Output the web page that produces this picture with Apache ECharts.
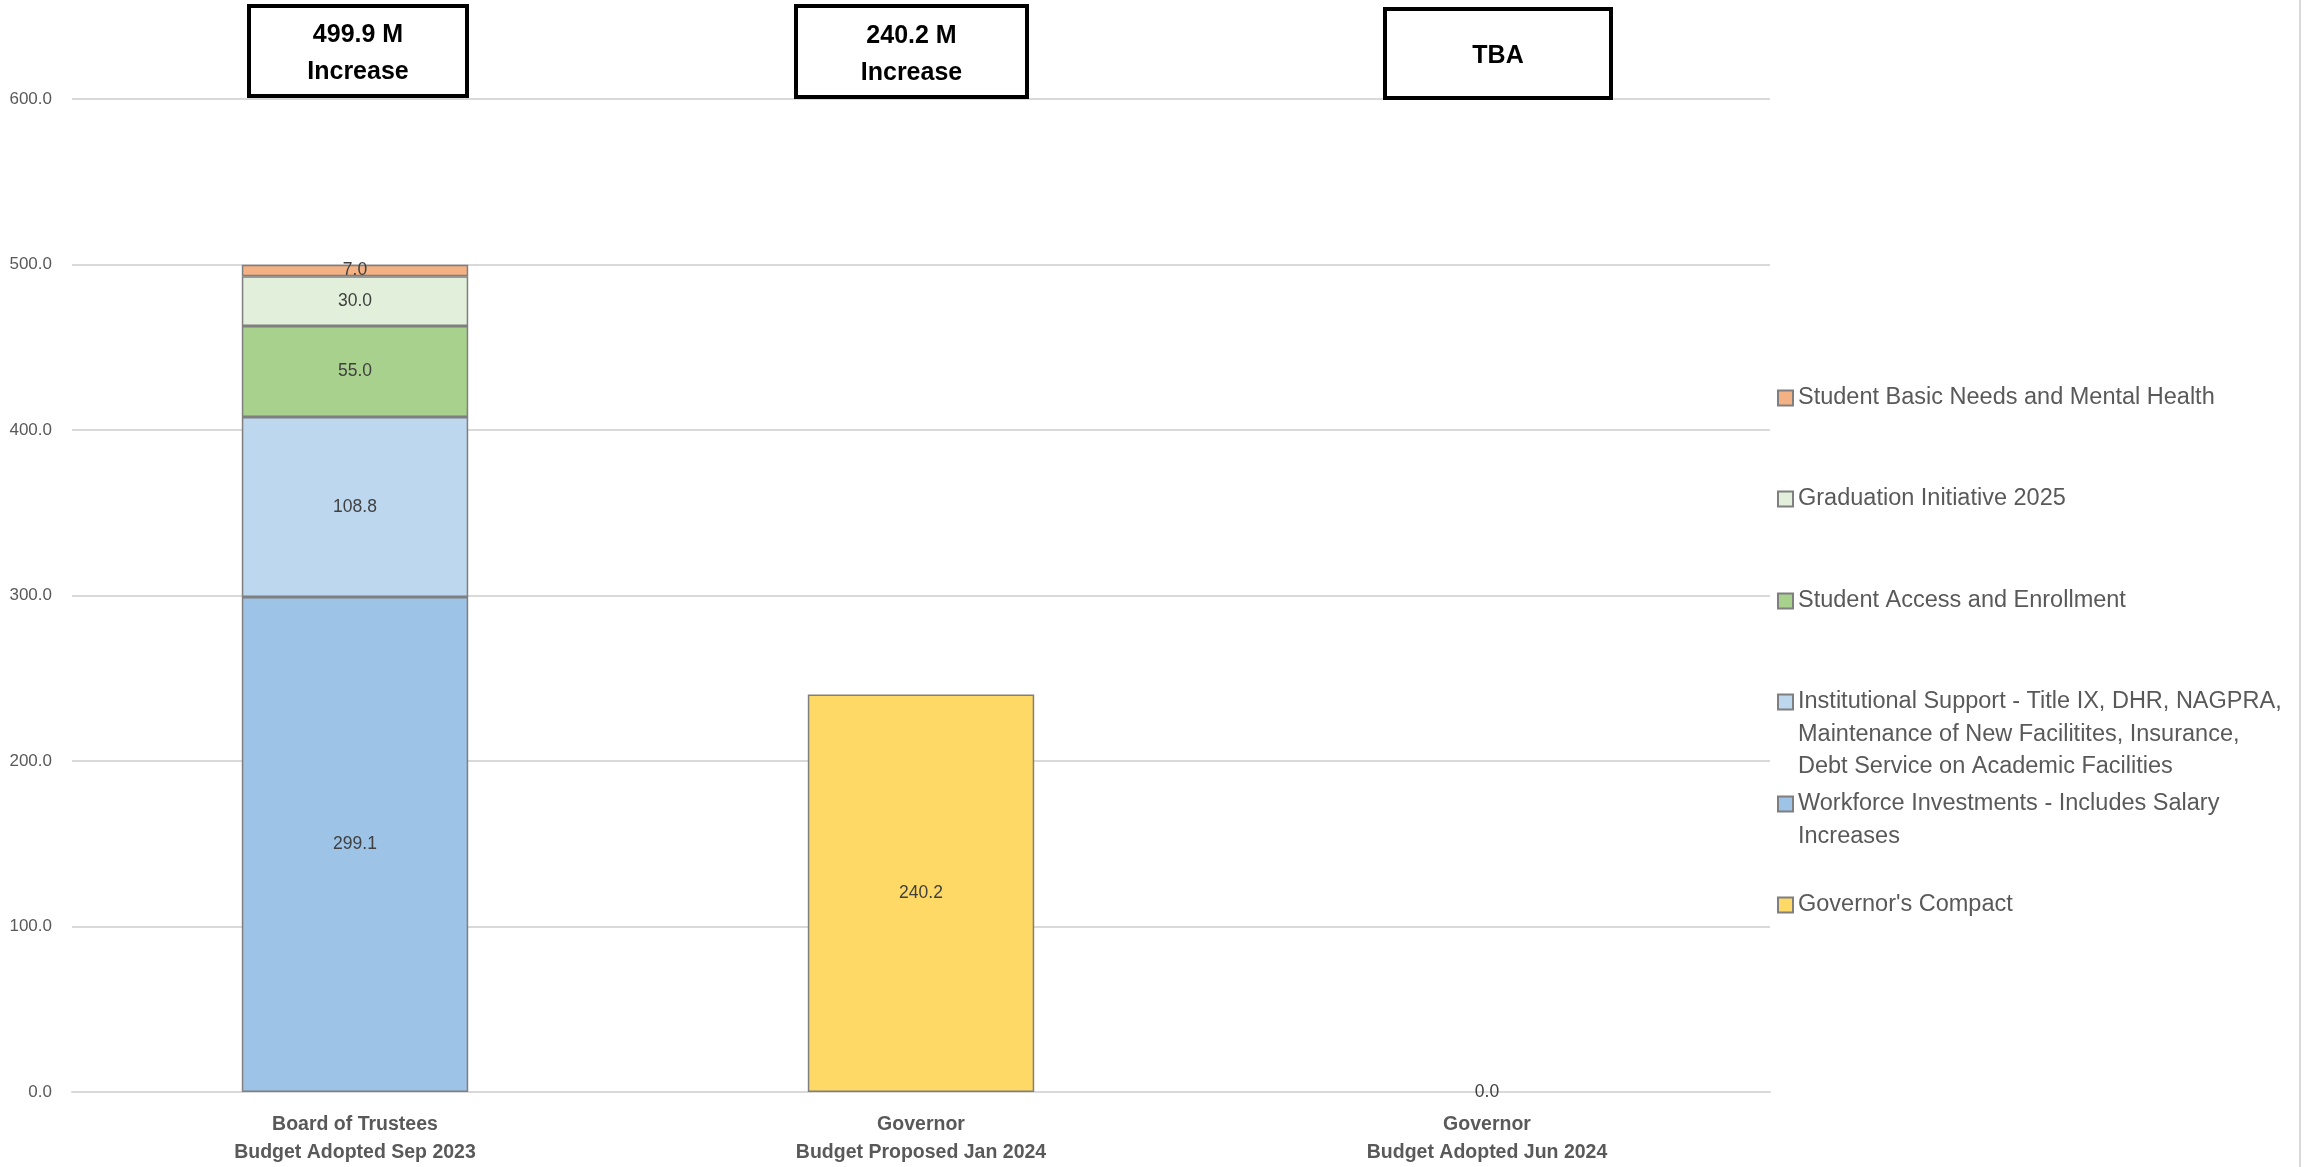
<!DOCTYPE html>
<html>
<head>
<meta charset="utf-8">
<script src="https://cdn.jsdelivr.net/npm/echarts@6/dist/echarts.min.js"></script>
<style>
  html, body { margin: 0; padding: 0; background: #ffffff; }
  #chart { width: 2310px; height: 1167px; }
</style>
</head>
<body>
<div id="chart"></div>
<script>
// ---- data ----
const categories = [
  "Board of Trustees\nBudget Adopted Sep 2023",
  "Governor\nBudget Proposed Jan 2024",
  "Governor\nBudget Adopted Jun 2024"
];
const seriesNames = [
  "Workforce Investments - Includes Salary Increases",
  "Institutional Support - Title IX, DHR, NAGPRA, Maintenance of New Facilitites, Insurance, Debt Service on Academic Facilities",
  "Student Access and Enrollment",
  "Graduation Initiative 2025",
  "Student Basic Needs and Mental Health",
  "Governor's Compact"
];
const legendLabels = [
  "Workforce Investments - Includes Salary\nIncreases",
  "Institutional Support - Title IX, DHR, NAGPRA,\nMaintenance of New Facilitites, Insurance,\nDebt Service on Academic Facilities",
  "Student Access and Enrollment",
  "Graduation Initiative 2025",
  "Student Basic Needs and Mental Health",
  "Governor's Compact"
];
const workforce     = [299.1, null, null];
const institutional = [108.8, null, null];
const access        = [55.0, null, null];
const graduation    = [30.0, null, null];
const basicNeeds    = [7.0, null, null];
const compact       = [null, 240.2, 0.0];
const seriesValues = [workforce, institutional, access, graduation, basicNeeds, compact];
const yTicks = [0, 100, 200, 300, 400, 500, 600];
const annotations = ["499.9 M\nIncrease", "240.2 M\nIncrease", "TBA"];

// ---- style ----
const colors = ["#9DC3E6", "#BDD7EE", "#A9D18E", "#E2EFDA", "#F4B183", "#FFD966"];
const FONT = "'Liberation Sans', Arial, sans-serif";
const legendOrder = [4, 3, 2, 1, 0, 5];
const legendCenters = [398, 499, 601, 702, 804, 905];
const LH = 32.5;

const chart = echarts.init(document.getElementById('chart'), null, { renderer: 'canvas' });

const series = seriesNames.map((name, i) => ({
  name: name,
  type: 'bar',
  stack: 'total',
  data: seriesValues[i].map(v => v === 0 ? { value: v, itemStyle: { borderWidth: 0 } } : v),
  barWidth: '40%',
  itemStyle: { color: colors[i], borderColor: '#7F7F7F', borderWidth: 1.5 },
  label: {
    show: true,
    position: 'inside',
    color: '#404040',
    fontFamily: FONT,
    fontSize: 17.5,
    formatter: p => (p.value === null || p.value === undefined || p.value === '-') ? '' : Number(p.value).toFixed(1)
  },
  emphasis: { disabled: true }
}));

const legends = legendOrder.map((si, k) => {
  const lines = legendLabels[si].split('\n');
  const n = lines.length;
  // pad with empty lines on top so the icon (centered on the block) sits on the first line
  const padded = new Array(n - 1).fill('').concat(lines).join('\n');
  return {
    data: [seriesNames[si]],
    orient: 'vertical',
    left: 1777,
    top: legendCenters[k] - (2 * n - 1) * LH / 2,
    padding: 0,
    itemWidth: 15,
    itemHeight: 15,
    icon: 'rect',
    selectedMode: false,
    formatter: () => padded,
    textStyle: {
      fontFamily: FONT,
      fontSize: 23.5,
      color: '#595959',
      lineHeight: LH
    }
  };
});

const boxes = [
  { x: 249, y: 6, w: 218, h: 90 },
  { x: 796, y: 6, w: 231, h: 91 },
  { x: 1385, y: 9, w: 226, h: 89 }
];
const graphic = [];
boxes.forEach((b, i) => {
  graphic.push({
    type: 'rect',
    shape: { x: b.x, y: b.y, width: b.w, height: b.h },
    style: { fill: '#ffffff', stroke: '#000000', lineWidth: 4 },
    z: 10
  });
  graphic.push({
    type: 'text',
    x: b.x + b.w / 2,
    y: b.y + b.h / 2 + 3,
    style: {
      text: annotations[i],
      align: 'center',
      verticalAlign: 'middle',
      fontFamily: FONT,
      fontWeight: 'bold',
      fontSize: 25,
      lineHeight: 37,
      fill: '#000000'
    },
    z: 11
  });
});
graphic.push({
  type: 'line',
  shape: { x1: 2300, y1: 0, x2: 2300, y2: 1167 },
  style: { stroke: '#D9D9D9', lineWidth: 2 },
  z: 1
});

chart.setOption({
  backgroundColor: '#ffffff',
  animation: false,
  grid: { left: 72, right: 540, top: 99, bottom: 71, containLabel: false },
  legend: legends,
  xAxis: {
    type: 'category',
    data: categories,
    axisLine: { show: true, lineStyle: { color: '#D9D9D9', width: 2 } },
    axisTick: { show: false },
    axisLabel: {
      interval: 0,
      margin: 19,
      color: '#595959',
      fontFamily: FONT,
      fontWeight: 'bold',
      fontSize: 19.5,
      lineHeight: 28
    }
  },
  yAxis: {
    type: 'value',
    min: yTicks[0],
    max: yTicks[yTicks.length - 1],
    interval: yTicks[1] - yTicks[0],
    axisLine: { show: false },
    axisTick: { show: false },
    splitLine: { lineStyle: { color: '#D9D9D9', width: 2 } },
    axisLabel: {
      margin: 20,
      color: '#595959',
      fontFamily: FONT,
      fontSize: 17,
      formatter: v => v.toFixed(1)
    }
  },
  series: series,
  graphic: graphic
});
</script>
</body>
</html>
